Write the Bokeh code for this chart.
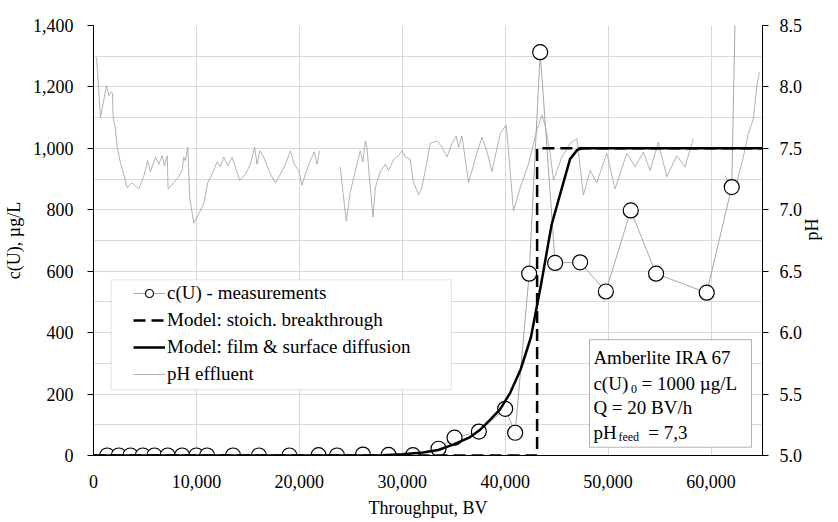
import math
from bokeh.plotting import figure
from bokeh.models import (Range1d, LinearAxis, FixedTicker, NumeralTickFormatter,
                          Legend, LegendItem, BoxAnnotation, Label)
from bokeh.embed import file_html
from bokeh.resources import INLINE

nan = float("nan")

# ---- data ----
meas_bv = [1330, 2460, 3590, 4790, 5920, 7210, 8610, 10000, 11040, 13560, 16070, 19030,
           21870, 23660, 26180, 28670, 31040, 33520, 35080, 37440, 40000, 40970, 42330,
           43400, 44850, 47280, 49780, 52200, 54660, 59580, 62010, 64000]
meas_c = [0, 0, 0, 0, 0, 0, 0, 0, 0, 0, 0, 0,
          1, 0, 3, 2, 1, 22, 58, 78, 152, 74, 592,
          1313, 627, 629, 534, 798, 592, 530, 874, 4200]

stoich_bv = [0, 43100, 43100, 65000]
stoich_c = [0, 0, 1000, 1000]

film_bv = [0, 26000, 28000, 30000, 32000, 33500, 35000, 36500, 37500, 38500, 39500,
           40500, 41500, 42500, 43500, 44500, 45500, 46300, 47000, 47500, 65000]
film_c = [0, 0, 1, 4, 10, 18, 36, 58, 82, 115, 150,
          205, 280, 385, 560, 750, 870, 965, 995, 1000, 1000]

ph_bv = [300, 680, 1260, 1490, 1720, 1845, 1910, 2140, 2300, 2620, 2940, 3270, 3760, 4400,
         4880, 5270, 5530, 6020, 6340, 6670, 6890, 7160, 7250, 7800, 8280, 8610, 8770, 8930,
         9160, 9350, 9740, 10130, 10710, 11100, 11520, 12010, 12330, 12650, 13040, 13470,
         14200, 14760, 15240, 15660, 15890, 16150, 16530, 17190, 17670, 18160, 18640, 19130,
         19510, 19930, 20260, 20580, 21070, 21460, 21720, 21970, 23000,
         23980, 24240, 24560, 24950, 25440, 25920, 26180, 26410, 26570, 26830, 27160, 27380,
         27860, 28350, 28670, 29160, 29640, 29970, 30290, 30780, 31040, 31580, 31910, 32720,
         33370, 33860, 34340, 34830, 35240, 35470, 35800, 36440, 37250, 37740, 38220, 38710,
         39520, 40100, 40810, 41460, 42260, 43080, 43560, 43880, 44370, 44690, 45510, 46310,
         46960, 47600, 48250, 48900, 49870, 50680, 51820, 52620, 53430, 54080, 54880, 55700,
         56670, 57480, 58280, 60000,
         61360, 62010, 62500, 63140, 63620, 64110, 64440, 64690]
ph_val = [8.24, 7.75, 8.01, 7.93, 7.96, 7.95, 7.75, 7.65, 7.51, 7.38, 7.29, 7.18, 7.22, 7.17,
          7.27, 7.40, 7.31, 7.43, 7.37, 7.44, 7.36, 7.44, 7.17, 7.22, 7.27, 7.32, 7.43, 7.40,
          7.51, 7.10, 6.89, 6.95, 7.05, 7.22, 7.29, 7.39, 7.35, 7.43, 7.36, 7.43,
          7.24, 7.29, 7.37, 7.51, 7.37, 7.48, 7.43, 7.29, 7.22, 7.29, 7.37, 7.48,
          7.37, 7.32, 7.20, 7.29, 7.40, 7.47, 7.37, 7.48, nan,
          7.35, 7.14, 6.91, 7.14, 7.32, 7.48, 7.39, 7.56, 7.51, 7.24, 6.94, 7.18,
          7.31, 7.37, 7.32, 7.41, 7.44, 7.48, 7.43, 7.41, 7.24, 7.12, 7.18, 7.54,
          7.56, 7.51, 7.43, 7.54, 7.60, 7.51, 7.60, 7.22, 7.46, 7.59, 7.48, 7.31,
          7.62, 7.69, 6.99, 7.18, 7.37, 7.65, 7.77, 7.69, 7.46, 7.24, 7.43, 7.54,
          7.58, 7.12, 7.32, 7.22, 7.46, 7.17, 7.46, 7.35, 7.47, 7.32, 7.55, 7.27,
          7.44, 7.35, 7.58, nan,
          7.28, 7.16, 7.22, 7.43, 7.62, 7.74, 8.00, 8.12]

x_ticks = [0, 10000, 20000, 30000, 40000, 50000, 60000]
c_ticks = [0, 200, 400, 600, 800, 1000, 1200, 1400]
c_minor = [100, 300, 500, 700, 900, 1100, 1300]
ph_ticks = [5.0, 5.5, 6.0, 6.5, 7.0, 7.5, 8.0, 8.5]

FONT = "Liberation Serif"
GRID = "#d9d9d9"

p = figure(width=838, height=522, output_backend="svg", toolbar_location=None,
           x_range=Range1d(0, 65000), y_range=Range1d(0, 1400),
           min_border_left=93, min_border_right=76, min_border_top=25, min_border_bottom=67)
p.extra_y_ranges = {"ph": Range1d(5, 8.5)}
p.outline_line_color = None
p.background_fill_color = "white"
p.border_fill_color = "white"

# grids
p.xgrid.ticker = FixedTicker(ticks=x_ticks)
p.ygrid.ticker = FixedTicker(ticks=c_ticks, minor_ticks=c_minor)
p.xgrid.grid_line_color = GRID
p.ygrid.grid_line_color = GRID
p.ygrid.minor_grid_line_color = GRID

# axes
xa = p.xaxis[0]
xa.ticker = FixedTicker(ticks=x_ticks)
xa.formatter = NumeralTickFormatter(format="0,0")
xa.axis_label = "Throughput, BV"
ya = p.yaxis[0]
ya.ticker = FixedTicker(ticks=c_ticks)
ya.formatter = NumeralTickFormatter(format="0,0")
ya.axis_label = "c(U), µg/L"
ra = LinearAxis(y_range_name="ph", ticker=FixedTicker(ticks=ph_ticks),
                formatter=NumeralTickFormatter(format="0.0"), axis_label="pH")
if "axis_label_orientation" in ra.properties():
    ra.axis_label_orientation = math.pi / 2
p.add_layout(ra, "right")

for ax in (xa, ya, ra):
    ax.axis_line_color = "black"
    ax.axis_line_width = 1
    ax.major_tick_line_color = "black"
    ax.major_tick_in = 0
    ax.minor_tick_in = 0
    ax.minor_tick_out = 0
    ax.major_label_text_font = FONT
    ax.major_label_text_font_size = "18px"
    ax.major_label_text_color = "black"
    ax.axis_label_text_font = FONT
    ax.axis_label_text_font_size = "18px"
    ax.axis_label_text_font_style = "normal"
    ax.axis_label_text_color = "black"
xa.major_tick_out = 0
xa.major_label_standoff = 19
xa.axis_label_standoff = 7
ya.major_tick_out = 6
ya.major_label_standoff = 14
ya.axis_label_standoff = 6
ra.major_tick_out = 6
ra.major_label_standoff = 11
ra.axis_label_standoff = 7

# glyphs
r_ph = p.line(ph_bv, ph_val, y_range_name="ph", line_color="#a0a0a0", line_width=0.8)
r_ml = p.line(meas_bv, meas_c, line_color="#a6a6a6", line_width=1)
r_mp = p.scatter(meas_bv, meas_c, marker="circle", size=15, fill_color="white",
                 line_color="black", line_width=1.2)
r_st = p.line(stoich_bv, stoich_c, line_color="black", line_width=2.5, line_dash="12 6")
r_fi = p.line(film_bv, film_c, line_color="black", line_width=2.5)

# legend frame
p.add_layout(BoxAnnotation(left=1720, right=34760, bottom=214, top=572,
                           fill_color="white", fill_alpha=1.0,
                           line_color="#a6a6a6", line_width=1))
legend = Legend(items=[
    LegendItem(label="c(U) - measurements", renderers=[r_ml, r_mp]),
    LegendItem(label="Model: stoich. breakthrough", renderers=[r_st]),
    LegendItem(label="Model: film & surface diffusion", renderers=[r_fi]),
    LegendItem(label="pH effluent", renderers=[r_ph]),
], location=(40, 70), padding=0, margin=0, spacing=5,
    glyph_width=32, glyph_height=20, label_height=20, label_standoff=2,
    label_text_font=FONT, label_text_font_size="19px", label_text_color="black",
    background_fill_alpha=0, border_line_color=None)
p.add_layout(legend)

# info box
p.add_layout(BoxAnnotation(left=48190, right=63930, bottom=27, top=377,
                           fill_color="white", fill_alpha=1.0,
                           line_color="black", line_width=1))
lab_kw = dict(text_font=FONT, text_font_size="19px", text_color="black", text_baseline="middle")
sub_kw = dict(text_font=FONT, text_font_size="12px", text_color="black", text_baseline="middle")
p.add_layout(Label(x=48570, y=320, text="Amberlite IRA 67", **lab_kw))
p.add_layout(Label(x=48570, y=233, text="c(U)", **lab_kw))
p.add_layout(Label(x=52235, y=217, text="0", **sub_kw))
p.add_layout(Label(x=53250, y=233, text="= 1000 µg/L", **lab_kw))
p.add_layout(Label(x=48570, y=157, text="Q = 20 BV/h", **lab_kw))
p.add_layout(Label(x=48570, y=76, text="pH", **lab_kw))
p.add_layout(Label(x=51000, y=60, text="feed", **sub_kw))
p.add_layout(Label(x=53900, y=76, text="= 7,3", **lab_kw))

open("out.html", "w").write(file_html(p, INLINE))
